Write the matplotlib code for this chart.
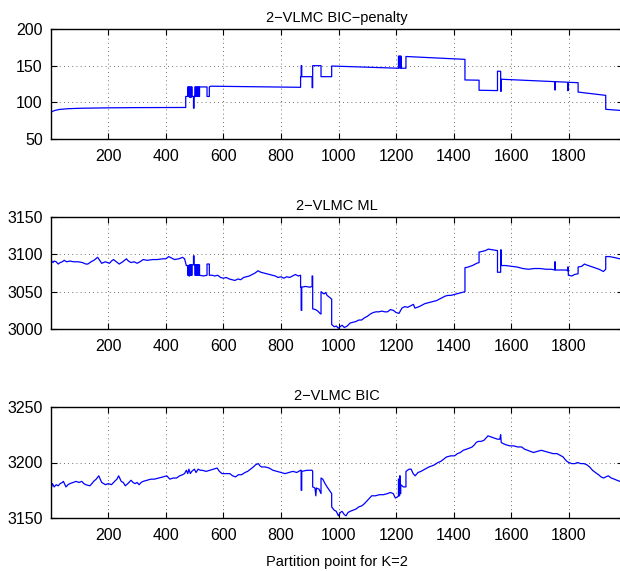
import matplotlib
matplotlib.use("Agg")
import matplotlib.pyplot as plt

plt.rcParams["font.family"] = ["Liberation Sans", "DejaVu Sans"]

# ---- 2-VLMC BIC-penalty (piecewise, vertical jumps as repeated x) ----
penalty_x = [1, 5, 15, 30, 60, 100, 200, 300, 469,
             469, 476, 476, 478, 478, 480, 480, 482, 482, 484, 484, 487, 487, 489, 489, 491, 491, 496, 496, 498, 498,
             501, 501, 503, 503, 505, 505, 507, 507, 509, 509, 511, 511, 513, 513, 515, 515, 517, 517, 543, 543,
             551, 551, 556, 868,
             868, 870, 870, 872, 872, 908, 908, 910, 910, 939, 939, 976, 976, 1208,
             1208, 1210, 1210, 1212, 1212, 1214, 1214, 1216, 1216, 1217, 1217, 1234, 1234, 1439,
             1439, 1488, 1488, 1552, 1552, 1563, 1563, 1565, 1565, 1751, 1751, 1753, 1753, 1796, 1796, 1798, 1798,
             1832, 1832, 1928, 1928, 1977]
penalty_y = [86, 87.5, 89, 90.3, 91.3, 91.9, 92.5, 92.8, 93,
             108, 108, 121, 121, 108, 108, 121, 121, 107, 107, 121, 121, 107, 107, 121, 121, 108, 108, 92, 92, 108,
             108, 121, 121, 108, 108, 121, 121, 108, 108, 121, 121, 108, 108, 121, 121, 108, 108, 121, 121, 108,
             108, 121, 122, 120.5,
             135, 135, 150, 150, 135, 135, 120, 120, 150, 150, 135, 135, 149.5, 146.5,
             163, 163, 147, 147, 163, 163, 147, 147, 163, 163, 146.5, 146.5, 162.5, 158.6,
             130.5, 130.2, 116.5, 116, 142.5, 142.3, 115, 115, 131.5, 128.2, 117, 117, 128.2, 127.4, 116, 116, 127.3,
             126.8, 114, 109.5, 90.5, 89]

# ---- 2-VLMC ML ----
ml_x = [1, 8, 12, 19, 26, 33, 40, 47, 55, 67, 80, 95, 110, 122, 129, 140, 150, 163, 170, 177, 190, 204, 211, 218,
        228, 238, 250, 263, 270, 279, 290, 300, 310, 321, 335, 355, 370, 389, 400, 410, 420, 430, 445, 458, 465,
        471, 476, 476, 478, 478, 480, 480, 482, 482, 484, 484, 487, 487, 489, 489, 491, 491, 496, 496, 498, 498,
        501, 501, 503, 503, 505, 505, 507, 507, 509, 509, 511, 511, 513, 513, 515, 515, 517, 517, 530, 543, 543,
        551, 551, 560, 570, 580, 590, 600, 610, 620, 630, 640, 650, 660, 670, 680, 690, 700, 710, 720, 730, 740,
        750, 760, 770, 780, 790, 800, 810, 820, 830, 840, 850, 860, 868,
        868, 870, 870, 872, 872, 885, 900, 908, 908, 910, 910, 920, 928, 935, 939, 939, 945, 950, 955, 960, 970,
        976, 976, 985, 992, 999, 1005, 1012, 1020, 1030, 1040, 1050, 1060, 1070, 1080, 1090, 1100, 1110, 1120,
        1130, 1140, 1150, 1160, 1170, 1180, 1190, 1200, 1210, 1220, 1230, 1240, 1250, 1260, 1265, 1280, 1290,
        1300, 1310, 1320, 1330, 1340, 1350, 1360, 1370, 1380, 1390, 1400, 1410, 1420, 1430,
        1439, 1439, 1450, 1465, 1480, 1488, 1488, 1500, 1510, 1520, 1535, 1552, 1552, 1563, 1563, 1565, 1565,
        1580, 1600, 1620, 1640, 1660, 1680, 1700, 1720, 1740, 1751, 1751, 1753, 1753, 1770, 1790, 1796, 1796,
        1798, 1798, 1810, 1820, 1832, 1832, 1845, 1854, 1860, 1875, 1890, 1905, 1920, 1928, 1928, 1940, 1955, 1977]
ml_y = [3092, 3089, 3091, 3090, 3087, 3089, 3090, 3092, 3090, 3091, 3090, 3090, 3089, 3087, 3087, 3090, 3092,
        3096, 3092, 3088, 3090, 3088, 3091, 3093, 3090, 3087, 3090, 3094, 3091, 3089, 3090, 3088, 3090, 3093,
        3092, 3093, 3093, 3094, 3094, 3097, 3095, 3093, 3094, 3096, 3094,
        3085, 3085, 3072, 3072, 3085, 3085, 3071, 3071, 3086, 3086, 3072, 3072, 3086, 3086, 3072, 3072, 3086,
        3086, 3098, 3098, 3086, 3086, 3072, 3072, 3086, 3086, 3072, 3072, 3086, 3086, 3072, 3072, 3086, 3086,
        3072, 3072, 3086, 3086, 3072, 3071, 3072, 3087, 3087, 3072, 3072, 3071, 3072, 3069, 3068, 3069, 3067,
        3066, 3065, 3067, 3066, 3069, 3070, 3071, 3073, 3075, 3078, 3076, 3075, 3074, 3073, 3072, 3071, 3069,
        3070, 3068, 3070, 3069, 3071, 3073, 3071, 3072,
        3056, 3056, 3025, 3025, 3056, 3057, 3056, 3057, 3071, 3071, 3027, 3026, 3024, 3021, 3020, 3050, 3048,
        3047, 3049, 3045, 3042, 3040, 3006, 3003, 3004, 3001, 3003, 3005, 3002, 3004, 3008, 3009, 3010, 3012,
        3012, 3015, 3017, 3020, 3022, 3023, 3023, 3024, 3023, 3023, 3026, 3025, 3022, 3021, 3028, 3030, 3029,
        3031, 3033, 3028, 3030, 3032, 3034, 3035, 3036, 3037, 3038, 3040, 3042, 3044, 3045, 3045, 3046, 3047,
        3048, 3049, 3050, 3082, 3083, 3085, 3088, 3089, 3103, 3104, 3105, 3107, 3106, 3105, 3076, 3076,
        3106, 3106, 3085, 3085, 3084, 3083, 3081, 3080, 3081, 3081, 3080, 3080, 3079, 3090, 3090, 3079, 3079,
        3079, 3078, 3083, 3083, 3072, 3071, 3073, 3074, 3083, 3084, 3087, 3086, 3084, 3082, 3080, 3077, 3080,
        3097, 3097, 3096, 3094]

# ---- 2-VLMC BIC ----
bic_x = [1, 6, 12, 19, 26, 33, 40, 44, 53, 60, 67, 78, 88, 98, 108, 115, 122, 136, 143, 149, 158, 167, 172, 177,
         184, 190, 200, 211, 222, 230, 236, 245, 252, 259, 268, 279, 286, 293, 300, 307, 314, 321, 335, 348, 360,
         375, 390, 403, 414, 425, 437, 448, 458, 465, 471, 476, 480, 485, 490, 499, 505, 512, 520, 526, 540, 553,
         565, 578, 586, 595, 610, 622, 632, 642, 652, 663, 675, 684, 694, 704, 712, 721, 727, 732, 745, 759, 772,
         786, 800, 814, 828, 841, 855, 868, 870, 870, 872, 872, 890, 908, 910, 910, 918, 921, 923, 932, 939, 939,
         945, 953, 960, 968, 976, 976, 985, 992, 999, 1006, 1012, 1020, 1026, 1033, 1040, 1050, 1060, 1070, 1081,
         1090, 1101, 1108, 1115, 1128, 1142, 1156, 1170, 1180, 1190, 1197, 1205, 1208, 1208, 1210, 1210, 1212,
         1212, 1214, 1214, 1216, 1216, 1225, 1234, 1234, 1245, 1252, 1259, 1266, 1276, 1286, 1300, 1314, 1325,
         1334, 1345, 1355, 1365, 1375, 1390, 1403, 1413, 1423, 1433, 1444, 1455, 1464, 1472, 1478, 1485, 1495,
         1505, 1512, 1519, 1530, 1540, 1552, 1560, 1563, 1565, 1572, 1581, 1595, 1608, 1622, 1636, 1646, 1656,
         1666, 1677, 1690, 1704, 1718, 1732, 1745, 1759, 1773, 1780, 1786, 1793, 1800, 1810, 1821, 1830, 1841,
         1852, 1862, 1872, 1882, 1892, 1903, 1912, 1921, 1928, 1937, 1947, 1958, 1967, 1977]
bic_y = [3176, 3181, 3178, 3180, 3179, 3181, 3182, 3183, 3178, 3180, 3181, 3182, 3183, 3182, 3183, 3181, 3180,
         3179, 3181, 3183, 3185, 3188, 3185, 3182, 3181, 3180, 3181, 3180, 3183, 3185, 3188, 3183, 3182, 3179,
         3181, 3184, 3182, 3181, 3182, 3180, 3182, 3183, 3184, 3185, 3185, 3186, 3187, 3188, 3185, 3186, 3186,
         3188, 3189, 3190, 3193, 3190, 3194, 3190, 3192, 3194, 3191, 3194, 3193, 3193, 3192, 3193, 3194, 3195,
         3192, 3190, 3190, 3190, 3188, 3187, 3189, 3189, 3191, 3192, 3194, 3196, 3198, 3199, 3197, 3196, 3196,
         3195, 3193, 3192, 3191, 3190, 3191, 3192, 3191, 3193, 3193, 3175, 3175, 3192, 3193, 3193, 3192, 3178,
         3177, 3170, 3177, 3176, 3172, 3186, 3185, 3181, 3178, 3175, 3172, 3160, 3157, 3156, 3152, 3155, 3156,
         3153, 3152, 3155, 3156, 3157, 3158, 3160, 3161, 3163, 3166, 3168, 3170, 3170, 3171, 3171, 3172, 3173,
         3172, 3168, 3169, 3170, 3185, 3185, 3170, 3170, 3188, 3188, 3172, 3172, 3180, 3178, 3178, 3192, 3194,
         3194, 3190, 3188, 3191, 3192, 3194, 3196, 3197, 3198, 3200, 3201, 3203, 3205, 3206, 3206, 3208, 3209,
         3211, 3212, 3213, 3214, 3216, 3218, 3219, 3219, 3220, 3222, 3224, 3223, 3222, 3221, 3221, 3225, 3218,
         3217, 3216, 3215, 3215, 3214, 3214, 3212, 3211, 3210, 3209, 3210, 3211, 3210, 3209, 3208, 3208, 3206,
         3205, 3203, 3201, 3200, 3199, 3199, 3200, 3199, 3199, 3198, 3196, 3193, 3191, 3189, 3187, 3186, 3187,
         3188, 3186, 3185, 3184, 3183]

titles = ["2\u2212VLMC BIC\u2212penalty", "2\u2212VLMC ML", "2\u2212VLMC BIC"]
yticks = [[50, 100, 150, 200], [3000, 3050, 3100, 3150], [3150, 3200, 3250]]
xticks = [200, 400, 600, 800, 1000, 1200, 1400, 1600, 1800]
xlabel = "Partition point for K=2"

W, H = 620, 571
fig = plt.figure(figsize=(W / 100, H / 100), dpi=100)

# axes boxes in pixels: (left, top, right, bottom)
boxes = [(51, 29, 623, 139), (51, 217, 623, 329), (51, 407, 623, 518)]
series = [(penalty_x, penalty_y), (ml_x, ml_y), (bic_x, bic_y)]

for i, ((l, t, r, b), (xs, ys)) in enumerate(zip(boxes, series)):
    ax = fig.add_axes([l / W, 1 - b / H, (r - l) / W, (b - t) / H])
    ax.plot(xs, ys, color=(0, 0, 1), lw=0.9)
    ax.set_xlim(1, 1988)
    ax.set_ylim(yticks[i][0], yticks[i][-1])
    ax.set_xticks(xticks)
    ax.set_yticks(yticks[i])
    ax.grid(True, linestyle=(0, (1, 4)), color="black", linewidth=0.6, alpha=0.75)
    ax.tick_params(direction="in", length=4, width=0.8, top=True, right=True,
                   labelsize=11.5, colors="black")
    ax.tick_params(axis="y", pad=6)
    ax.tick_params(axis="x", pad=7)
    for s in ax.spines.values():
        s.set_linewidth(1.0)
    ax.set_title(titles[i], fontsize=10.5, pad=5)
    if i == 2:
        ax.set_xlabel(xlabel, fontsize=10.5, labelpad=9)

fig.savefig("out.png", dpi=100)
